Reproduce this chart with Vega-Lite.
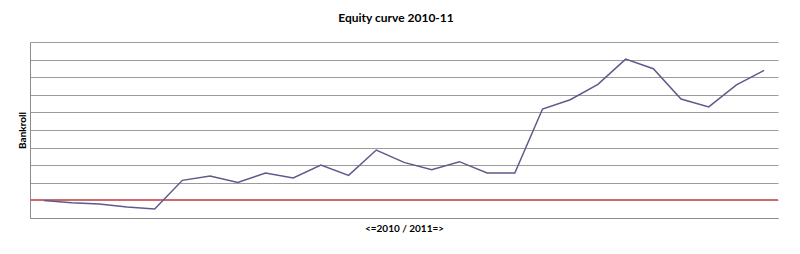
{
  "$schema": "https://vega.github.io/schema/vega-lite/v6.json",
  "width": 748,
  "height": 176,
  "autosize": {"type": "none"},
  "padding": {"left": 30, "top": 42, "right": 22, "bottom": 36},
  "background": "white",
  "config": {
    "view": {"stroke": null},
    "font": "Lato",
    "axisY": {
      "labels": false,
      "ticks": false,
      "grid": true,
      "gridColor": "#9b9b9b",
      "gridWidth": 1,
      "domain": true,
      "domainColor": "#8c8c8c",
      "domainWidth": 1,
      "titleFont": "Lato",
      "titleFontSize": 10,
      "titleFontWeight": "bold",
      "titleColor": "#000000",
      "titlePadding": 3
    }
  },
  "title": {
    "text": "Equity curve 2010-11",
    "font": "Lato",
    "fontSize": 12,
    "fontWeight": "bold",
    "color": "#000000",
    "anchor": "middle",
    "dx": -8,
    "offset": 17
  },
  "data": {
    "values": [
      {"period": 1, "bankroll": 0},
      {"period": 2, "bankroll": -0.13},
      {"period": 3, "bankroll": -0.2},
      {"period": 4, "bankroll": -0.38},
      {"period": 5, "bankroll": -0.49},
      {"period": 6, "bankroll": 1.14},
      {"period": 7, "bankroll": 1.39},
      {"period": 8, "bankroll": 1.02},
      {"period": 9, "bankroll": 1.56},
      {"period": 10, "bankroll": 1.27},
      {"period": 11, "bankroll": 2.01},
      {"period": 12, "bankroll": 1.42},
      {"period": 13, "bankroll": 2.86},
      {"period": 14, "bankroll": 2.16},
      {"period": 15, "bankroll": 1.74},
      {"period": 16, "bankroll": 2.2},
      {"period": 17, "bankroll": 1.56},
      {"period": 18, "bankroll": 1.56},
      {"period": 19, "bankroll": 5.19},
      {"period": 20, "bankroll": 5.72},
      {"period": 21, "bankroll": 6.59},
      {"period": 22, "bankroll": 8.03},
      {"period": 23, "bankroll": 7.48},
      {"period": 24, "bankroll": 5.76},
      {"period": 25, "bankroll": 5.31},
      {"period": 26, "bankroll": 6.56},
      {"period": 27, "bankroll": 7.39}
    ]
  },
  "layer": [
    {
      "mark": {"type": "rule", "color": "#cf6b6b", "strokeWidth": 1},
      "encoding": {
        "y": {
          "datum": 0,
          "type": "quantitative",
          "scale": {"domain": [-1, 9], "nice": false, "zero": false},
          "axis": {"title": "Bankroll", "values": [-1, 0, 1, 2, 3, 4, 5, 6, 7, 8, 9]}
        }
      }
    },
    {
      "mark": {"type": "line", "color": "#5b5b8c", "strokeWidth": 1.5},
      "encoding": {
        "x": {
          "field": "period",
          "type": "ordinal",
          "scale": {"type": "point", "padding": 0.5},
          "axis": {
            "title": "<=2010 / 2011=>",
            "labels": false,
            "ticks": false,
            "grid": false,
            "domain": true,
            "domainColor": "#8c8c8c",
            "domainWidth": 1,
            "titleFont": "Lato",
            "titleFontSize": 10,
            "titleFontWeight": "bold",
            "titleColor": "#000000",
            "titlePadding": 5
          }
        },
        "y": {
          "field": "bankroll",
          "type": "quantitative",
          "scale": {"domain": [-1, 9], "nice": false, "zero": false},
          "axis": {"title": "Bankroll", "values": [-1, 0, 1, 2, 3, 4, 5, 6, 7, 8, 9]}
        }
      }
    }
  ]
}
